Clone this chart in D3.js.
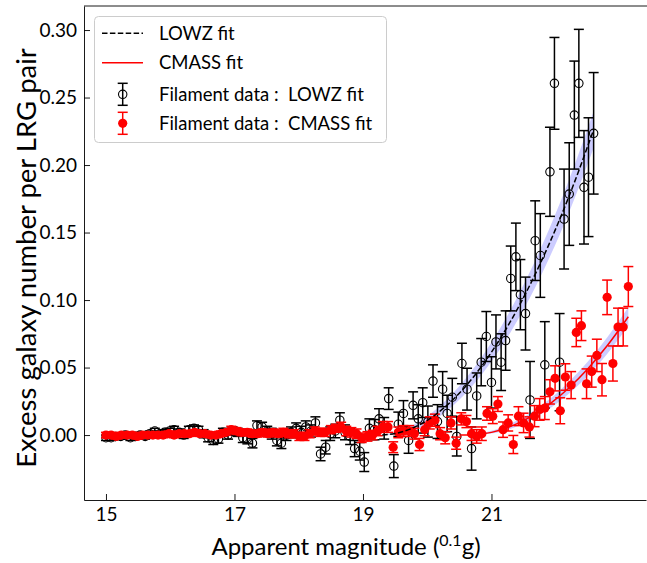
<!DOCTYPE html>
<html>
<head>
<meta charset="utf-8">
<script src="https://cdn.jsdelivr.net/npm/d3@7"></script>
<style>
  body { margin: 0; background: #fff; }
  svg { display: block; font-family: Lato, 'Noto Sans', sans-serif; }
</style>
</head>
<body>
<div class="vis-filament"></div>
<script>
// LOWZ filament data (black open circles)
const lowzMag = [
  15.00, 15.08, 15.15, 15.23, 15.30, 15.38, 15.46, 15.53, 15.61, 15.68,
  15.76, 15.84, 15.91, 15.99, 16.06, 16.14, 16.21, 16.29, 16.37, 16.44,
  16.52, 16.59, 16.67, 16.75, 16.82, 16.90, 16.97, 17.05, 17.13, 17.20,
  17.28, 17.35, 17.43, 17.51, 17.58, 17.66, 17.73, 17.81, 17.88, 17.96,
  18.04, 18.11, 18.19, 18.26, 18.34, 18.42, 18.49, 18.57, 18.64, 18.72,
  18.80, 18.87, 18.95, 19.02, 19.10, 19.18, 19.25, 19.33, 19.40, 19.48,
  19.55, 19.63, 19.71, 19.78, 19.86, 19.93, 20.01, 20.09, 20.16, 20.24,
  20.31, 20.39, 20.46, 20.54, 20.62, 20.69, 20.77, 20.84, 20.92, 21.00,
  21.07, 21.15, 21.22, 21.30, 21.38, 21.45, 21.53, 21.60, 21.68, 21.76,
  21.83, 21.91, 21.98, 22.06, 22.13, 22.21, 22.29, 22.36, 22.44, 22.51,
  22.59
];
const lowzVal = [
  -0.002, -0.002, -0.001, -0.001, 0.000, -0.002, -0.001, 0.000, -0.001, 0.001,
  0.003, 0.001, 0.002, 0.003, 0.004, 0.002, 0.000, 0.004, 0.005, 0.004,
  0.001, -0.002, -0.004, -0.003, 0.002, 0.000, 0.003, 0.002, -0.002, -0.003,
  -0.006, 0.007, 0.006, 0.003, 0.001, -0.004, -0.006, 0.000, 0.002, 0.005,
  0.002, 0.006, 0.003, 0.009, -0.014, -0.009, 0.001, 0.003, 0.011, 0.002,
  -0.001, -0.010, -0.012, -0.020, 0.005, 0.004, 0.012, 0.005, 0.027, -0.023,
  0.008, 0.016, -0.004, 0.022, 0.012, 0.024, 0.010, 0.040, 0.010, 0.034,
  0.016, 0.028, -0.001, 0.053, 0.034, -0.010, 0.029, 0.054, 0.073, 0.039,
  0.069, 0.054, 0.070, 0.116, 0.132, 0.104, 0.090, 0.026, 0.144, 0.133,
  0.052, 0.195, 0.2605, 0.054, 0.160, 0.1785, 0.237, 0.2605, 0.1835, 0.191,
  0.2235
];
const lowzErr = [
  0.002, 0.002, 0.002, 0.002, 0.002, 0.002, 0.002, 0.002, 0.002, 0.002,
  0.002, 0.002, 0.002, 0.002, 0.0025, 0.0025, 0.0025, 0.0025, 0.0025, 0.0025,
  0.003, 0.003, 0.003, 0.003, 0.003, 0.003, 0.003, 0.003, 0.0035, 0.0035,
  0.0035, 0.0035, 0.0035, 0.0035, 0.004, 0.004, 0.004, 0.004, 0.004, 0.004,
  0.0045, 0.0045, 0.0045, 0.0045, 0.005, 0.005, 0.005, 0.005, 0.0055, 0.0055,
  0.006, 0.006, 0.0065, 0.007, 0.007, 0.0075, 0.0075, 0.008, 0.008, 0.0085,
  0.009, 0.0095, 0.0095, 0.010, 0.0105, 0.011, 0.0115, 0.012, 0.0125, 0.013,
  0.0135, 0.014, 0.0145, 0.015, 0.0155, 0.016, 0.017, 0.0175, 0.0185, 0.019,
  0.020, 0.021, 0.022, 0.024, 0.025, 0.026, 0.027, 0.0285, 0.0295, 0.031,
  0.032, 0.033, 0.034, 0.036, 0.037, 0.038, 0.040, 0.040, 0.042, 0.044,
  0.045
];

// CMASS filament data (red filled circles)
const cmassMag = [
  15.00, 15.08, 15.16, 15.24, 15.33, 15.41, 15.49, 15.57, 15.65, 15.73,
  15.81, 15.89, 15.98, 16.06, 16.14, 16.22, 16.30, 16.38, 16.46, 16.54,
  16.63, 16.71, 16.79, 16.87, 16.95, 17.03, 17.11, 17.20, 17.28, 17.36,
  17.44, 17.52, 17.60, 17.68, 17.76, 17.85, 17.93, 18.01, 18.09, 18.17,
  18.25, 18.33, 18.41, 18.50, 18.58, 18.66, 18.74, 18.82, 18.90, 18.98,
  19.07, 19.15, 19.23, 19.31, 19.39, 19.47, 19.55, 19.63, 19.72, 19.80,
  19.88, 19.96, 20.04, 20.12, 20.20, 20.28, 20.37, 20.45, 20.53, 20.61,
  20.69, 20.77, 20.85, 20.93, 21.02, 21.10, 21.18, 21.26, 21.34, 21.42,
  21.50, 21.59, 21.67, 21.75, 21.83, 21.91, 21.99, 22.07, 22.15, 22.24,
  22.32, 22.40, 22.48, 22.56, 22.64, 22.72, 22.80, 22.89, 22.97, 23.05,
  23.13
];
const cmassVal = [
  0.000, 0.000, -0.001, 0.000, 0.000, 0.000, -0.001, 0.000, 0.000, 0.000,
  0.000, 0.000, 0.001, 0.000, 0.001, 0.001, 0.001, 0.002, 0.001, 0.001,
  0.000, 0.000, 0.001, 0.002, 0.004, 0.003, 0.002, 0.002, 0.001, 0.001,
  0.002, 0.001, 0.002, 0.001, 0.002, 0.001, 0.001, -0.001, -0.001, 0.001,
  0.003, 0.002, 0.002, 0.004, 0.005, 0.006, 0.003, 0.002, 0.001, -0.002,
  -0.001, 0.000, 0.003, 0.006, 0.006, -0.009, 0.002, 0.003, 0.003, 0.001,
  -0.007, 0.004, 0.009, 0.011, 0.001, -0.002, 0.009, -0.006, 0.012, 0.010,
  0.001, -0.001, 0.001, 0.016, 0.014, 0.023, 0.004, 0.009, -0.007, 0.014,
  0.009, 0.006, 0.014, 0.019, 0.020, 0.032, 0.042, 0.018, 0.043, 0.037,
  0.076, 0.081, 0.038, 0.047, 0.059, 0.041, 0.102, 0.053, 0.080, 0.080,
  0.110
];
const cmassErr = [
  0.002, 0.002, 0.002, 0.002, 0.002, 0.002, 0.002, 0.002, 0.002, 0.002,
  0.002, 0.002, 0.002, 0.002, 0.002, 0.002, 0.002, 0.002, 0.002, 0.002,
  0.002, 0.002, 0.002, 0.002, 0.0025, 0.0025, 0.0025, 0.0025, 0.0025, 0.0025,
  0.0025, 0.0025, 0.0025, 0.0025, 0.003, 0.003, 0.003, 0.003, 0.003, 0.003,
  0.003, 0.003, 0.003, 0.003, 0.003, 0.0035, 0.0035, 0.0035, 0.0035, 0.0035,
  0.0035, 0.0035, 0.0035, 0.004, 0.004, 0.004, 0.004, 0.004, 0.004, 0.004,
  0.0045, 0.0045, 0.0045, 0.0045, 0.0045, 0.0045, 0.0045, 0.0045, 0.0045, 0.0045,
  0.005, 0.005, 0.005, 0.005, 0.0055, 0.0055, 0.0057, 0.006, 0.0067, 0.007,
  0.0072, 0.0075, 0.0078, 0.008, 0.0085, 0.009, 0.0093, 0.0096, 0.0098, 0.010,
  0.0105, 0.011, 0.011, 0.0115, 0.012, 0.012, 0.0128, 0.013, 0.014, 0.014,
  0.0148
];

// fitted curves with their bands
const lowzFitMag = [19.10, 19.30, 19.50, 19.80, 20.10, 20.40, 20.70, 21.00, 21.30, 21.60, 21.90, 22.20, 22.59];
const lowzFit = [0.0000, 0.0000, 0.0011, 0.0058, 0.0141, 0.0262, 0.0419, 0.0614, 0.0845, 0.1113, 0.1418, 0.1760, 0.2262];
const lowzFitHi = [0.0000, 0.0003, 0.0022, 0.0081, 0.0177, 0.0310, 0.0480, 0.0687, 0.0930, 0.1211, 0.1528, 0.1882, 0.2398];
const lowzFitLo = [0.0000, 0.0000, 0.0003, 0.0038, 0.0109, 0.0217, 0.0363, 0.0545, 0.0764, 0.1019, 0.1312, 0.1642, 0.2126];

const cmassFitMag = [20.50, 20.70, 21.00, 21.30, 21.60, 21.90, 22.20, 22.50, 22.80, 23.13];
const cmassFit = [0.0000, 0.0001, 0.0020, 0.0064, 0.0133, 0.0228, 0.0347, 0.0491, 0.0661, 0.0876];
const cmassFitHi = [0.0000, 0.0005, 0.0032, 0.0085, 0.0162, 0.0265, 0.0392, 0.0545, 0.0723, 0.0947];
const cmassFitLo = [0.0000, 0.0000, 0.0011, 0.0047, 0.0108, 0.0194, 0.0304, 0.0440, 0.0601, 0.0807];

const xTicks = [15, 17, 19, 21];
const yTicks = [0.00, 0.05, 0.10, 0.15, 0.20, 0.25, 0.30];

const legendItems = [
  'LOWZ fit',
  'CMASS fit',
  'Filament data :  LOWZ fit',
  'Filament data :  CMASS fit'
];

const draw = () => {
  const width = 647;
  const height = 563;
  const margin = { top: 6, right: 1, bottom: 63, left: 84 };

  const svg = d3
    .select('.vis-filament')
    .append('svg')
    .attr('width', width)
    .attr('height', height);

  const x = d3
    .scaleLinear()
    .domain([14.658, 23.405])
    .range([margin.left, width - margin.right]);
  const y = d3
    .scaleLinear()
    .domain([-0.0481, 0.3178])
    .range([height - margin.bottom, margin.top]);

  const lowz = lowzMag.map((m, i) => ({ m, v: lowzVal[i], e: lowzErr[i] }));
  const cmass = cmassMag.map((m, i) => ({ m, v: cmassVal[i], e: cmassErr[i] }));

  // bands
  const band = (mags, lo, hi) => d3
    .area()
    .x((d, i) => x(mags[i]))
    .y0((d, i) => y(lo[i]))
    .y1((d, i) => y(hi[i]))
    .curve(d3.curveMonotoneX)(mags);
  svg.append('path')
    .attr('d', band(lowzFitMag, lowzFitLo, lowzFitHi))
    .attr('fill', 'blue')
    .attr('fill-opacity', 0.2);
  svg.append('path')
    .attr('d', band(cmassFitMag, cmassFitLo, cmassFitHi))
    .attr('fill', 'blue')
    .attr('fill-opacity', 0.2);

  const cap = 5;
  const errorbars = (data, colour) => {
    const g = svg.append('g')
      .attr('stroke', colour)
      .attr('stroke-width', 1.5);
    const pts = g.selectAll('g').data(data).join('g');
    pts.append('line')
      .attr('x1', (d) => x(d.m)).attr('x2', (d) => x(d.m))
      .attr('y1', (d) => y(d.v - d.e)).attr('y2', (d) => y(d.v + d.e));
    pts.append('line')
      .attr('x1', (d) => x(d.m) - cap).attr('x2', (d) => x(d.m) + cap)
      .attr('y1', (d) => y(d.v + d.e)).attr('y2', (d) => y(d.v + d.e));
    pts.append('line')
      .attr('x1', (d) => x(d.m) - cap).attr('x2', (d) => x(d.m) + cap)
      .attr('y1', (d) => y(d.v - d.e)).attr('y2', (d) => y(d.v - d.e));
    return pts;
  };

  errorbars(lowz, '#000')
    .append('circle')
    .attr('cx', (d) => x(d.m))
    .attr('cy', (d) => y(d.v))
    .attr('r', 4.2)
    .attr('fill', 'none')
    .attr('stroke-width', 1.1);

  errorbars(cmass, '#ff0000')
    .append('circle')
    .attr('cx', (d) => x(d.m))
    .attr('cy', (d) => y(d.v))
    .attr('r', 4.6)
    .attr('fill', '#ff0000')
    .attr('stroke', 'none');

  // fit lines
  const fitLine = (mags, vals) => d3
    .line()
    .x((d, i) => x(mags[i]))
    .y((d, i) => y(vals[i]))
    .curve(d3.curveMonotoneX)(mags);
  svg.append('path')
    .attr('d', fitLine(lowzFitMag.slice(1), lowzFit.slice(1)))
    .attr('fill', 'none')
    .attr('stroke', '#000')
    .attr('stroke-width', 1.5)
    .attr('stroke-dasharray', '5.5,2.4');
  svg.append('path')
    .attr('d', fitLine(cmassFitMag, cmassFit))
    .attr('fill', 'none')
    .attr('stroke', '#ff0000')
    .attr('stroke-width', 1.5);

  // axes, ticks pointing inwards
  const xAxis = svg.append('g')
    .attr('transform', `translate(0,${height - margin.bottom})`)
    .call(d3.axisBottom(x).tickValues(xTicks).tickFormat(d3.format('d'))
      .tickSizeInner(-6).tickSizeOuter(0).tickPadding(8));
  const yAxis = svg.append('g')
    .attr('transform', `translate(${margin.left},0)`)
    .call(d3.axisLeft(y).tickValues(yTicks).tickFormat(d3.format('.2f'))
      .tickSizeInner(-6).tickSizeOuter(0).tickPadding(7));
  [xAxis, yAxis].forEach((a) => {
    a.selectAll('text')
      .attr('font-family', 'Lato, sans-serif')
      .attr('font-size', 19)
      .attr('fill', '#000');
    a.selectAll('line').attr('stroke', '#000').attr('stroke-width', 0.9);
    a.select('.domain').attr('stroke', '#000').attr('stroke-width', 0.9);
  });
  svg.append('line')
    .attr('x1', margin.left).attr('x2', width)
    .attr('y1', margin.top).attr('y2', margin.top)
    .attr('stroke', '#000').attr('stroke-width', 0.9);

  // axis labels
  const xLabel = svg.append('text')
    .attr('x', 346)
    .attr('y', 555)
    .attr('text-anchor', 'middle')
    .attr('font-size', 24)
    .attr('fill', '#000');
  xLabel.append('tspan').text('Apparent magnitude (');
  xLabel.append('tspan').attr('font-size', 16).attr('dy', -9).text('0.1');
  xLabel.append('tspan').attr('dy', 9).text('g)');

  svg.append('text')
    .attr('transform', 'translate(36,258) rotate(-90)')
    .attr('text-anchor', 'middle')
    .attr('font-size', 27.5)
    .attr('fill', '#000')
    .text('Excess galaxy number per LRG pair');

  // legend
  const legend = svg.append('g');
  legend.append('rect')
    .attr('x', 94.5).attr('y', 16.5)
    .attr('width', 292).attr('height', 126)
    .attr('rx', 4)
    .attr('fill', '#fff').attr('fill-opacity', 0.8)
    .attr('stroke', '#cccccc');
  const rows = [33.3, 62.7, 94.3, 123.3];
  legend.append('line')
    .attr('x1', 102).attr('x2', 143).attr('y1', rows[0]).attr('y2', rows[0])
    .attr('stroke', '#000').attr('stroke-width', 1.5).attr('stroke-dasharray', '5.5,2.4');
  legend.append('line')
    .attr('x1', 102).attr('x2', 143).attr('y1', rows[1]).attr('y2', rows[1])
    .attr('stroke', '#ff0000').attr('stroke-width', 1.5);
  [['#000', rows[2], false], ['#ff0000', rows[3], true]].forEach(([c, cy, filled]) => {
    const g = legend.append('g').attr('stroke', c).attr('stroke-width', 1.5);
    g.append('line').attr('x1', 122.7).attr('x2', 122.7).attr('y1', cy - 11).attr('y2', cy + 11);
    g.append('line').attr('x1', 117.7).attr('x2', 127.7).attr('y1', cy - 11).attr('y2', cy - 11);
    g.append('line').attr('x1', 117.7).attr('x2', 127.7).attr('y1', cy + 11).attr('y2', cy + 11);
    g.append('circle').attr('cx', 122.7).attr('cy', cy)
      .attr('r', filled ? 4.6 : 4.2)
      .attr('fill', filled ? c : 'none')
      .attr('stroke', filled ? 'none' : c)
      .attr('stroke-width', 1.1);
  });
  legend.selectAll('text.item')
    .data(legendItems)
    .join('text')
    .attr('class', 'item')
    .attr('x', 159)
    .attr('y', (d, i) => rows[i])
    .attr('dy', '0.36em')
    .attr('font-size', 18.5)
    .attr('fill', '#000')
    .style('white-space', 'pre')
    .text((d) => d);
};

draw();
</script>
</body>
</html>
